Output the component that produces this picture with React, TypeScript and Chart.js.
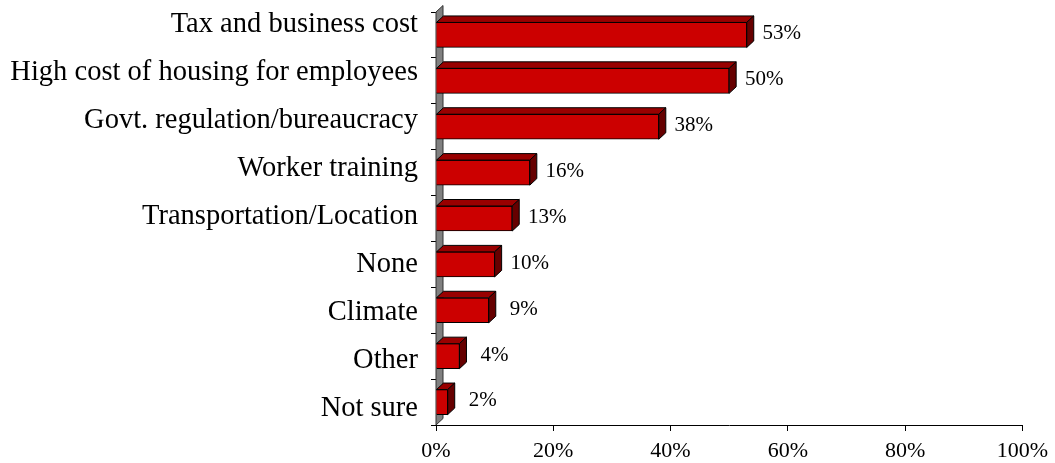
import React, { useEffect, useRef } from "react";
import { Chart, registerables } from "chart.js";

Chart.register(...registerables);

const categories = [
  "Tax and business cost",
  "High cost of housing for employees",
  "Govt. regulation/bureaucracy",
  "Worker training",
  "Transportation/Location",
  "None",
  "Climate",
  "Other",
  "Not sure",
];
const values = [53, 50, 38, 16, 13, 10, 9, 4, 2];
const xTicks = [0, 20, 40, 60, 80, 100];

const FRONT = "#CC0000";
const TOP = "#990000";
const SIDE = "#660000";
const WALL = "#808080";
const DX = 7;
const DY = 6.5;
const SERIF = "'Liberation Serif', 'Times New Roman', serif";

const threeD = {
  id: "threeD",
  beforeDatasetsDraw(chart: any) {
    const { ctx, chartArea } = chart;
    const l = chartArea.left;
    ctx.save();
    ctx.beginPath();
    ctx.moveTo(l, chartArea.bottom);
    ctx.lineTo(l, chartArea.top);
    ctx.lineTo(l + DX, chartArea.top - DY);
    ctx.lineTo(l + DX, chartArea.bottom - DY);
    ctx.closePath();
    ctx.fillStyle = WALL;
    ctx.fill();
    ctx.strokeStyle = "#333";
    ctx.lineWidth = 1;
    ctx.stroke();
    ctx.restore();
  },
  afterDatasetsDraw(chart: any) {
    const { ctx } = chart;
    const meta = chart.getDatasetMeta(0);
    const xs = chart.scales.x;
    ctx.save();
    ctx.lineWidth = 1;
    ctx.strokeStyle = "#000";
    meta.data.forEach((bar: any, i: number) => {
      const props = bar.getProps(["x", "y", "base", "height"], true);
      const x0 = props.base;
      const x1 = props.x;
      const yt = props.y - props.height / 2;
      const yb = props.y + props.height / 2;
      // top face
      ctx.beginPath();
      ctx.moveTo(x0, yt);
      ctx.lineTo(x0 + DX, yt - DY);
      ctx.lineTo(x1 + DX, yt - DY);
      ctx.lineTo(x1, yt);
      ctx.closePath();
      ctx.fillStyle = TOP;
      ctx.fill();
      ctx.stroke();
      // side face
      ctx.beginPath();
      ctx.moveTo(x1, yt);
      ctx.lineTo(x1 + DX, yt - DY);
      ctx.lineTo(x1 + DX, yb - DY);
      ctx.lineTo(x1, yb);
      ctx.closePath();
      ctx.fillStyle = SIDE;
      ctx.fill();
      ctx.stroke();
      // value label
      const fs = 21;
      ctx.font = `${fs}px ${SERIF}`;
      ctx.fillStyle = "#000";
      ctx.textAlign = "center";
      ctx.textBaseline = "alphabetic";
      const cx = xs.getPixelForValue(values[i]) + 35;
      const cy = props.y - 2.5;
      ctx.fillText(values[i] + "%", cx, cy + fs * 0.33);
    });
    // category labels
    const ys = chart.scales.y;
    const first = ys.getPixelForValue(0);
    const fs = 28.5;
    ctx.font = `${fs}px ${SERIF}`;
    ctx.fillStyle = "#000";
    ctx.textAlign = "right";
    ctx.textBaseline = "alphabetic";
    categories.forEach((c, i) => {
      const yc = ys.getPixelForValue(i);
      const ly = first - 12 + (yc - first) * 1.046;
      ctx.fillText(c, chart.chartArea.left - 18, ly + fs * 0.33);
    });
    ctx.restore();
  },
};

export default function App() {
  const ref = useRef<HTMLCanvasElement | null>(null);
  useEffect(() => {
    document.body.style.margin = "0";
    const canvas = ref.current!;
    const chart = new Chart(canvas, {
      type: "bar",
      data: {
        labels: categories,
        datasets: [
          {
            data: values,
            backgroundColor: FRONT,
            borderColor: "#000",
            borderWidth: 1,
            barThickness: 25,
          },
        ],
      },
      options: {
        indexAxis: "y",
        animation: false,
        responsive: false,
        devicePixelRatio: 1,
        layout: { padding: { top: 12, right: 32, left: 0, bottom: 0 } },
        plugins: { legend: { display: false }, tooltip: { enabled: false } },
        scales: {
          x: {
            min: 0,
            max: 100,
            afterBuildTicks: (s: any) => {
              s.ticks = xTicks.map((v) => ({ value: v }));
            },
            ticks: {
              color: "#000",
              font: { family: SERIF, size: 22 },
              padding: 7,
              maxRotation: 0,
              callback: (v: any) => v + "%",
            },
            grid: {
              drawOnChartArea: false,
              drawTicks: true,
              tickLength: 6,
              color: "#000",
            },
            border: { display: true, color: "#000", width: 1 },
            afterFit: (s: any) => {
              s.height = 38;
            },
          },
          y: {
            ticks: { display: false },
            grid: {
              drawOnChartArea: false,
              drawTicks: true,
              tickLength: 5,
              color: "#000",
              offset: true,
            },
            border: { display: true, color: "#000", width: 1 },
            afterFit: (s: any) => {
              s.width = 436;
            },
          },
        },
      },
      plugins: [threeD],
    });
    return () => chart.destroy();
  }, []);
  return (
    <div style={{ width: 1055, height: 463 }}>
      <canvas ref={ref} width={1055} height={463} style={{ display: "block" }} />
    </div>
  );
}
